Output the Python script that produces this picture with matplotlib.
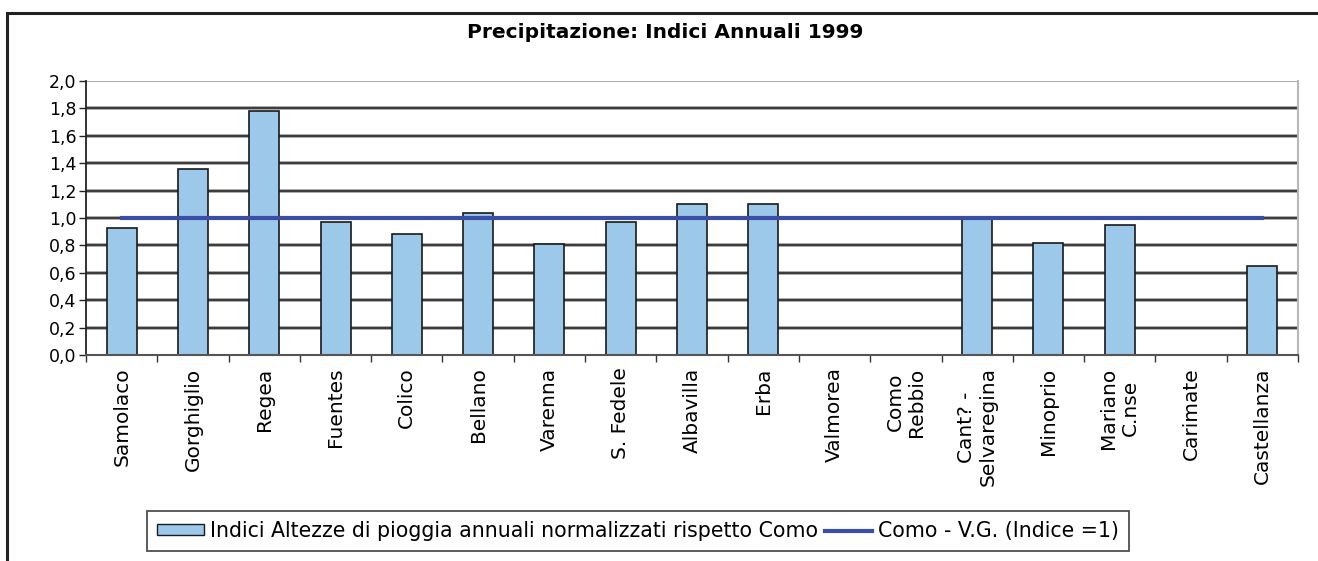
import numpy as np
import matplotlib.pyplot as plt
from matplotlib.patches import Rectangle
from matplotlib.lines import Line2D
from matplotlib.ticker import FuncFormatter

plt.rcParams['font.family'] = ['DejaVu Sans']

stazioni = ['Samolaco', 'Gorghiglio', 'Regea', 'Fuentes', 'Colico', 'Bellano',
            'Varenna', 'S. Fedele', 'Albavilla', 'Erba', 'Valmorea', 'Como\nRebbio',
            'Cant? -\nSelvaregina', 'Minoprio', 'Mariano\nC.nse', 'Carimate',
            'Castellanza']
indici = [0.93, 1.36, 1.78, 0.97, 0.88, 1.04, 0.81, 0.97, 1.10, 1.10,
          0.0, 0.0, 0.99, 0.82, 0.95, 0.0, 0.65]
riferimento = [1.0] * len(stazioni)

W, H = 1318, 561
fig = plt.figure(figsize=(W / 100, H / 100), dpi=100)
ax = fig.add_axes([86 / W, 1 - 355 / H, (1298 - 86) / W, (355 - 81) / H])

# cornice esterna
fig.patches.append(Rectangle((7 / W, -0.05), 1.1, 1 - 13 / H + 0.05,
                             transform=fig.transFigure, fill=False,
                             edgecolor='#222222', linewidth=2.2))

x = np.arange(len(stazioni))
ax.set_ylim(0, 2.0)
ax.set_xlim(-0.5, len(stazioni) - 0.5)

# griglia
for v in np.arange(0.2, 2.0, 0.2):
    ax.axhline(v, color='#999999', linewidth=2.6, zorder=0)
    ax.axhline(v, color='#222222', linewidth=1.1, zorder=0)
ax.axhline(2.0, color='#b0b0b0', linewidth=1.5, zorder=0)

ax.bar(x, indici, width=0.42, color='#9cc8ea', edgecolor='#1a1a1a',
       linewidth=1.2, zorder=2)
ax.plot(x, riferimento, color='#3b4ea6', linewidth=3, zorder=3)

for s in ['top', 'right']:
    ax.spines[s].set_visible(False)
ax.spines['left'].set_color('#222222')
ax.spines['left'].set_linewidth(1.3)
ax.spines['bottom'].set_color('#555555')
ax.spines['bottom'].set_linewidth(1.5)
ax.plot([1, 1], [0, 1], transform=ax.transAxes, color='#b8b8b8',
        linewidth=1.5, clip_on=False)

ax.set_yticks(np.arange(0, 2.01, 0.2))
ax.yaxis.set_major_formatter(FuncFormatter(lambda v, p: f'{v:.1f}'.replace('.', ',')))
ax.tick_params(axis='y', labelsize=12.5, length=5, width=1, color='#222222', pad=2)

ax.set_xticks(x)
ax.set_xticklabels(stazioni, rotation=90, fontsize=14.5, va='top', ha='center',
                   linespacing=1.2)
ax.set_xticks(np.arange(-0.5, len(stazioni), 1), minor=True)
ax.tick_params(axis='x', which='major', length=0, pad=9)
ax.tick_params(axis='x', which='minor', length=5, width=1, color='#333333')

fig.text(665 / W, 1 - 32 / H, 'Precipitazione: Indici Annuali 1999',
         ha='center', va='center', fontsize=14.5, fontweight='bold')

handles = [Rectangle((0, 0), 1, 1, facecolor='#9cc8ea', edgecolor='#1a1a1a',
                     linewidth=1),
           Line2D([], [], color='#3b4ea6', linewidth=3)]
labels = ['Indici Altezze di pioggia annuali normalizzati rispetto Como',
          'Como - V.G. (Indice =1)']
leg = fig.legend(handles, labels, loc='center', ncol=2,
                 bbox_to_anchor=(638 / W, 1 - 531 / H), fontsize=14.8,
                 frameon=True, fancybox=False, handlelength=2.3,
                 handleheight=0.4, handletextpad=0.3, columnspacing=0.3,
                 borderpad=0.5, borderaxespad=0)
leg.get_frame().set_edgecolor('#222222')
leg.get_frame().set_linewidth(1.3)

fig.savefig('out.png', dpi=100)
